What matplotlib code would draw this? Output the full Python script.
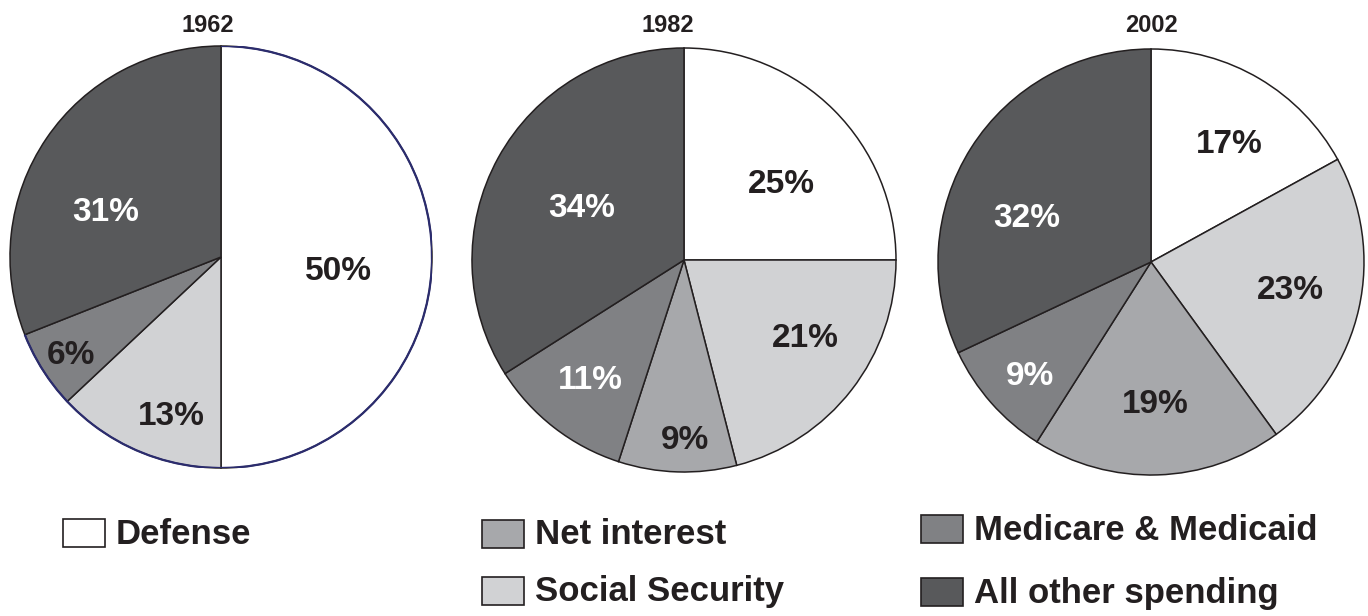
import matplotlib.pyplot as plt
from matplotlib.patches import Rectangle, Arc
import numpy as np

plt.rcParams['font.family'] = ['Liberation Sans', 'DejaVu Sans']

# Data (clockwise from 12 o'clock)
categories = ["Defense", "Social Security", "Net interest", "Medicare & Medicaid", "All other spending"]
colors = ["#ffffff", "#d1d2d4", "#a7a8ab", "#808184", "#58595b"]
years = ["1962", "1982", "2002"]
shares_1962 = [50, 13, 0, 6, 31]
shares_1982 = [25, 21, 9, 11, 34]
shares_2002 = [17, 23, 19, 9, 32]
all_shares = [shares_1962, shares_1982, shares_2002]

DARK = "#231f20"
label_colors_by_year = [
    [DARK, DARK, DARK, DARK, "#ffffff"],
    [DARK, DARK, DARK, "#ffffff", "#ffffff"],
    [DARK, DARK, DARK, "#ffffff", "#ffffff"],
]
# label placement: (radius fraction, angle offset from wedge middle in degrees)
label_place = [
    [(0.56, -7), (0.79, 6), (0.8, 0), (0.85, 1), (0.585, 13)],
    [(0.58, -7), (0.68, 5), (0.85, 2), (0.72, 0), (0.54, 2)],
    [(0.66, -3), (0.67, 1), (0.67, 0), (0.78, 2), (0.62, 13)],
]

W, H = 1368, 616
fig = plt.figure(figsize=(W / 100, H / 100), dpi=100)

centers = [(221, 257, 211), (684, 260, 212), (1151, 262, 213)]
title_x = [208, 668, 1151]

for i, (year, shares) in enumerate(zip(years, all_shares)):
    cx, cy, r = centers[i]
    ax = fig.add_axes([(cx - r) / W, (H - cy - r) / H, 2 * r / W, 2 * r / H])
    wedges, _ = ax.pie(shares, colors=colors, startangle=90, counterclock=False,
                       radius=1, wedgeprops=dict(edgecolor=DARK, linewidth=1.1))
    for j, w in enumerate(wedges):
        if shares[j] == 0:
            w.set_visible(False)
            continue
        d, off = label_place[i][j]
        mid = np.deg2rad((w.theta1 + w.theta2) / 2 + off)
        ax.text(d * np.cos(mid), d * np.sin(mid), f"{shares[j]}%",
                ha="center", va="center", fontsize=24, fontweight="bold",
                color=label_colors_by_year[i][j])
    if i == 0:
        # the 1962 pie has a navy rim on the right side
        ax.add_patch(Arc((0, 0), 2, 2, theta1=wedges[3].theta1, theta2=wedges[0].theta2,
                         color="#2b2c6e", linewidth=1.6))
    ax.set_xlim(-1, 1)
    ax.set_ylim(-1, 1)
    ax.set_aspect("equal")
    ax.axis("off")
    fig.text(title_x[i] / W, 1 - 25 / H, year, ha="center", va="center",
             fontsize=17, fontweight="bold", color=DARK)

# legend boxes laid out like the original
legend_pos = [(63, 533), (921, 529), (482, 534), (482, 591), (921, 592)]
legend_order = [0, 3, 2, 1, 4]
for (lx, ly), k in zip(legend_pos, legend_order):
    fig.patches.append(Rectangle((lx / W, (H - ly - 14) / H), 42 / W, 28 / H,
                                 transform=fig.transFigure, facecolor=colors[k],
                                 edgecolor=DARK, linewidth=1.2))
    fig.text((lx + 53) / W, 1 - (ly + 1) / H, categories[k], ha="left", va="center",
             fontsize=25, fontweight="bold", color=DARK)

plt.savefig("out.png", dpi=100)
